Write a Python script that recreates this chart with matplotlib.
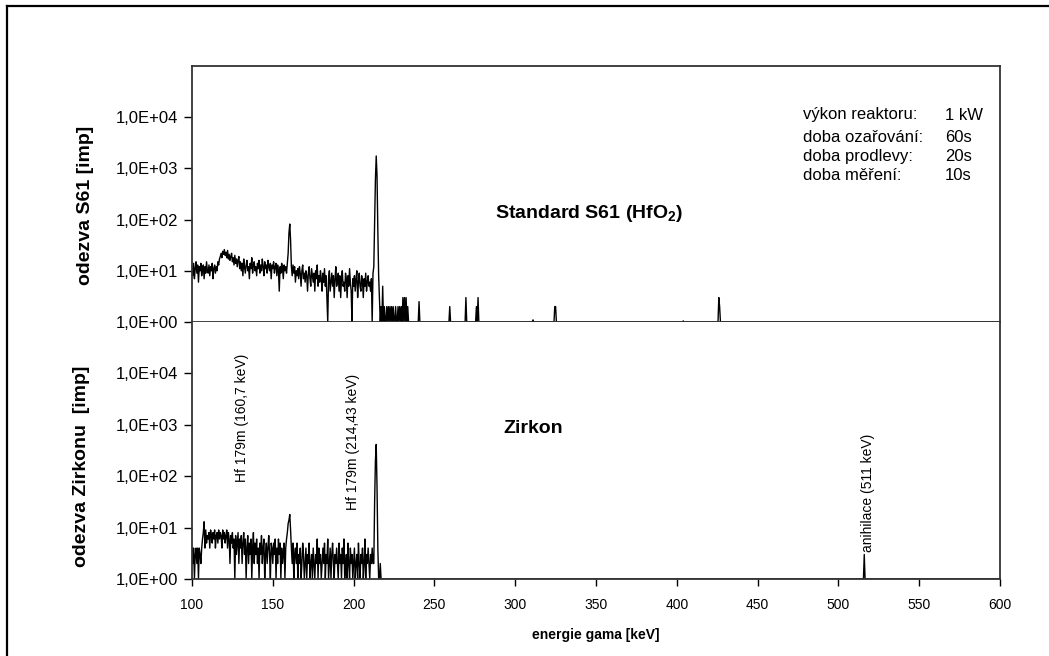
import numpy as np
import matplotlib
matplotlib.use("Agg")
import matplotlib.pyplot as plt
from matplotlib.lines import Line2D
from matplotlib.ticker import FixedLocator, FixedFormatter, NullLocator

plt.rcParams['font.family'] = ['Liberation Sans', 'DejaVu Sans']
plt.rcParams['mathtext.fontset'] = 'custom'
plt.rcParams['mathtext.rm'] = 'Liberation Sans'
plt.rcParams['mathtext.bf'] = 'Liberation Sans:bold'

# ---------------- data ----------------
channel_step = 0.5
e_start, e_stop = 100.0, 600.0

# S61 standard: counts per 0.5 keV channel from 100 keV to 219.5 keV
s61_dense = (
    [12, 8, 14, 7, 11, 15, 9, 13, 6, 12, 10, 14, 8, 11, 13, 7, 12, 9, 15, 10] +
    [9, 13, 8, 12, 10, 14, 7, 11, 13, 9, 12, 10, 15, 13, 17, 19, 22, 18, 24, 21] +
    [26, 20, 23, 18, 25, 17, 21, 16, 19, 22, 15, 18, 13, 20, 14, 17, 12, 16, 19, 11] +
    [15, 10, 14, 8, 17, 12, 9, 13, 16, 10, 12, 7, 14, 11, 18, 9, 13, 15, 10, 12] +
    [8, 14, 11, 16, 9, 13, 10, 17, 12, 8, 15, 11, 13, 9, 16, 12, 10, 14, 7, 13] +
    [11, 15, 9, 12, 14, 8, 13, 10, 4, 12, 9, 14, 11, 7, 13, 10, 12, 9, 14, 22] +
    [55, 82, 40, 12, 8, 13, 9, 12, 6, 10, 8, 11, 7, 12, 9, 5, 10, 13, 7, 9] +
    [6, 10, 8, 4, 9, 12, 7, 5, 11, 8, 6, 9, 4, 10, 7, 13, 5, 8, 6, 10] +
    [7, 4, 9, 6, 11, 5, 8, 3, 1, 7, 10, 4, 6, 9, 5, 8, 3, 7, 12, 5] +
    [6, 9, 4, 8, 3, 7, 10, 5, 6, 4, 9, 7, 3, 8, 5, 11, 6, 4, 1, 7] +
    [5, 8, 4, 7, 10, 3, 6, 9, 5, 4, 8, 6, 3, 7, 5, 9, 4, 6, 8, 5] +
    [6, 4, 7, 1, 9, 12, 80, 600, 1750, 700, 60, 8, 3, 1, 2, 1, 5, 1, 2, 1]
)
# isolated S61 counts above 220 keV
s61_spike_e = [220.5, 221.5, 222.5, 223.5, 224.5, 226.0, 227.5, 228.5, 229.5, 230.5,
               231.5, 232.5, 233.5, 240.5, 259.5, 269.5, 276.0, 277.0,
               311.0, 324.5, 325.0, 404.0, 426.0, 426.5]
s61_spike_v = [2, 2, 2, 2, 2, 2, 2, 2, 2, 3,
               3, 3, 2, 2.5, 2, 3, 2, 3,
               1.1, 2, 2, 1.05, 3, 2]

# Zirkon sample: counts per 0.5 keV channel from 100 keV to 219.5 keV
zr_dense = (
    [4, 2, 4, 1, 3, 4, 2, 4, 1, 4, 3, 2, 4, 6, 8, 13, 4, 9, 5, 7] +
    [6, 8, 4, 9, 7, 5, 8, 6, 9, 4, 7, 8, 5, 9, 6, 8, 7, 4, 9, 6] +
    [8, 5, 7, 9, 4, 8, 6, 2, 7, 5, 8, 4, 6, 1, 7, 3, 5, 8, 2, 6] +
    [4, 7, 2, 5, 8, 3, 6, 1, 4, 7, 2, 5, 3, 6, 1, 4, 8, 2, 5, 3] +
    [6, 2, 4, 1, 5, 3, 7, 2, 4, 6, 1, 3, 5, 2, 4, 7, 3, 1, 5, 4] +
    [2, 5, 3, 6, 1, 4, 2, 6, 3, 5, 1, 4, 2, 3, 5, 1, 4, 6, 8, 12] +
    [14, 18, 9, 4, 2, 5, 1, 3, 4, 2, 5, 1, 3, 2, 4, 1, 2, 5, 3, 1] +
    [2, 4, 1, 3, 2, 5, 1, 2, 3, 1, 4, 2, 1, 3, 2, 6, 1, 4, 2, 3] +
    [1, 2, 4, 2, 5, 1, 3, 2, 6, 1, 2, 4, 1, 3, 5, 2, 1, 3, 2, 4] +
    [2, 1, 5, 2, 3, 1, 4, 2, 6, 1, 2, 3, 1, 5, 2, 1, 4, 2, 3, 1] +
    [2, 4, 1, 2, 3, 1, 5, 2, 1, 3, 2, 4, 1, 2, 6, 1, 3, 2, 4, 2] +
    [1, 3, 2, 4, 2, 2, 30, 200, 415, 60, 4, 1, 1, 2, 1, 1, 1, 1, 1, 1]
)
zr_spike_e = [516.0]
zr_spike_v = [3]

ytick_vals = [1, 10, 100, 1000, 10000]
ytick_labels = ["1,0E+00", "1,0E+01", "1,0E+02", "1,0E+03", "1,0E+04"]
xtick_vals = [100, 150, 200, 250, 300, 350, 400, 450, 500, 550, 600]

info_labels = ["výkon reaktoru:", "doba ozařování:", "doba prodlevy:", "doba měření:"]
info_values = ["1 kW", "60s", "20s", "10s"]

# ---------------- build spectra ----------------
energy = np.arange(e_start, e_stop + channel_step / 2, channel_step)


def build(dense, sp_e, sp_v):
    counts = np.ones_like(energy)
    counts[:len(dense)] = dense
    for e, v in zip(sp_e, sp_v):
        idx = int(round((e - e_start) / channel_step))
        counts[idx] = v
    return counts


s61 = build(s61_dense, s61_spike_e, s61_spike_v)
zr = build(zr_dense, zr_spike_e, zr_spike_v)

# ---------------- figure ----------------
W, H = 1049, 656
fig = plt.figure(figsize=(W / 100, H / 100), dpi=100)

left_px, right_px = 192, 1000
top_px, mid_px, bot_px = 66, 322, 579


def rect(y0, y1):
    return [left_px / W, 1 - y1 / H, (right_px - left_px) / W, (y1 - y0) / H]


ax1 = fig.add_axes(rect(top_px, mid_px))
ax2 = fig.add_axes(rect(mid_px, bot_px))

spine_col = '#333333'
for ax, data in ((ax1, s61), (ax2, zr)):
    ax.plot(energy, data, color='black', lw=1.0)
    ax.set_yscale('log')
    ax.set_ylim(1, 1e5)
    ax.set_xlim(100, 600)
    ax.yaxis.set_major_locator(FixedLocator(ytick_vals))
    ax.yaxis.set_major_formatter(FixedFormatter(ytick_labels))
    ax.yaxis.set_minor_locator(NullLocator())
    ax.tick_params(axis='y', direction='out', length=6, width=1, pad=4,
                   labelsize=12, colors='black')
    for s in ax.spines.values():
        s.set_color(spine_col)
        s.set_linewidth(1.3)

ax1.xaxis.set_major_locator(NullLocator())
ax1.xaxis.set_minor_locator(NullLocator())
ax2.xaxis.set_major_locator(FixedLocator(xtick_vals))
ax2.xaxis.set_minor_locator(NullLocator())
ax2.tick_params(axis='x', direction='out', length=5, width=1, pad=9, labelsize=10)
ax2.spines['top'].set_visible(False)

ax2.set_xlabel("energie gama [keV]", fontsize=10, fontweight='bold', labelpad=11)

fig.text(85 / W, 1 - 205 / H, "odezva S61 [imp]", rotation=90, ha='center', va='center',
         fontsize=14, fontweight='bold')
fig.text(82 / W, 1 - 466 / H, "odezva Zirkonu  [imp]", rotation=90, ha='center', va='center',
         fontsize=14, fontweight='bold')

# annotations
ax1.text(346, 134, "Standard S61 (HfO$_{\\mathbf{2}}$)", ha='center', va='center',
         fontsize=14, fontweight='bold')
ax2.text(311, 850, "Zirkon", ha='center', va='center', fontsize=14, fontweight='bold')
ax2.text(131, 1390, "Hf 179m (160,7 keV)", rotation=90, ha='center', va='center', fontsize=10)
ax2.text(199.6, 455, "Hf 179m (214,43 keV)", rotation=90, ha='center', va='center', fontsize=10)
ax2.text(518.3, 48, "anihilace (511 keV)", rotation=90, ha='center', va='center', fontsize=10)

line_y = [115, 137, 157, 176]
for lab, val, y in zip(info_labels, info_values, line_y):
    fig.text(803 / W, 1 - y / H, lab, ha='left', va='center', fontsize=12)
    fig.text(945 / W, 1 - y / H, val, ha='left', va='center', fontsize=12)

# outer border (top and left edges visible)
fig.add_artist(Line2D([7 / W, 1.0], [1 - 6 / H, 1 - 6 / H], transform=fig.transFigure,
                      color='black', lw=1.6))
fig.add_artist(Line2D([7 / W, 7 / W], [0.0, 1 - 6 / H], transform=fig.transFigure,
                      color='black', lw=1.6))

fig.savefig("out.png", dpi=100, facecolor='white')
